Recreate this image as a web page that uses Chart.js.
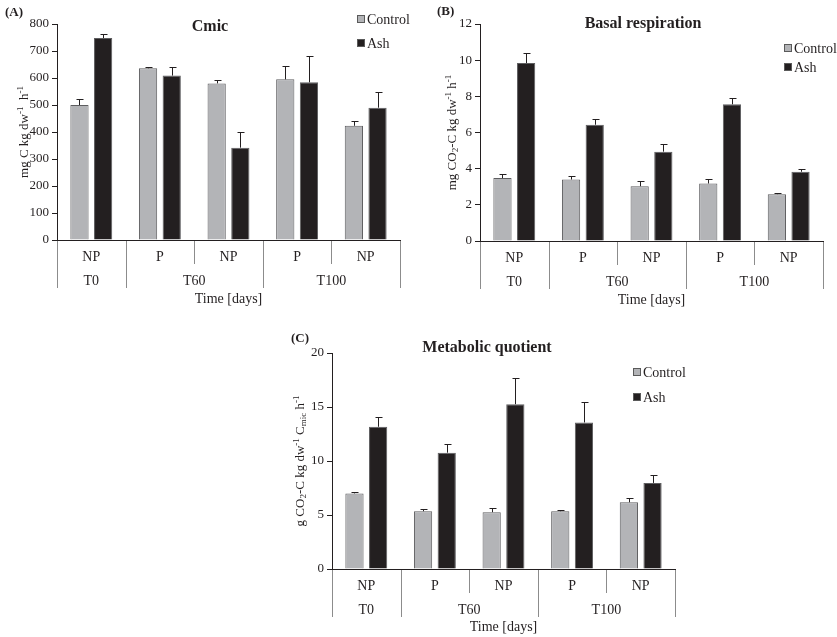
<!DOCTYPE html>
<html>
<head>
<meta charset="utf-8">
<script src="https://cdn.jsdelivr.net/npm/chart.js@4"></script>
<style>
  body { margin: 0; background: #fff; }
  #wrap { position: relative; width: 837px; height: 637px; }
  canvas { position: absolute; }
</style>
</head>
<body>
<div id="wrap">
  <canvas id="chartA" width="418" height="310" style="left:0;top:0"></canvas>
  <canvas id="chartB" width="417" height="310" style="left:420px;top:0"></canvas>
  <canvas id="chartC" width="430" height="327" style="left:270px;top:310px"></canvas>
</div>
<script>
// categories
const treatments = ['NP', 'P', 'NP', 'P', 'NP'];
const timeGroups = ['T0', 'T60', 'T100'];
const groupSpans = [1, 2, 2];
const seriesNames = ['Control', 'Ash'];

// (A) Cmic
const cmicControl = [500, 636, 580, 595, 423];
const cmicControlErr = [22, 6, 13, 51, 19];
const cmicAsh = [748, 609, 342, 584, 490];
const cmicAshErr = [16, 30, 59, 99, 57];
const cmicAxis = [0, 800, 100]; // min, max, step

// (B) Basal respiration
const respControl = [3.48, 3.40, 3.03, 3.18, 2.59];
const respControlErr = [0.22, 0.20, 0.28, 0.24, 0.07];
const respAsh = [9.84, 6.43, 4.94, 7.56, 3.83];
const respAshErr = [0.55, 0.30, 0.40, 0.37, 0.13];
const respAxis = [0, 12, 2];

// (C) Metabolic quotient
const qControl = [7.0, 5.35, 5.26, 5.35, 6.18];
const qControlErr = [0.1, 0.22, 0.43, 0.13, 0.42];
const qAsh = [13.17, 10.77, 15.26, 13.57, 7.97];
const qAshErr = [0.92, 0.8, 2.4, 1.93, 0.73];
const qAxis = [0, 20, 5];

const FONT = "'Liberation Serif', 'Times New Roman', serif";
const INK = '#231f20';
Chart.defaults.font.family = FONT;
Chart.defaults.color = INK;

// rotated axis title with super/subscripts: [text, 0 normal | 1 sup | -1 sub]
function drawRich(ctx, parts, cx, cy, size) {
  const small = Math.round(size * 0.7);
  const fonts = parts.map(p => (p[1] ? small : size) + 'px ' + FONT);
  let total = 0;
  const widths = parts.map((p, i) => {
    ctx.font = fonts[i];
    const w = ctx.measureText(p[0]).width;
    total += w;
    return w;
  });
  ctx.save();
  ctx.translate(cx, cy);
  ctx.rotate(-Math.PI / 2);
  ctx.textAlign = 'left';
  ctx.textBaseline = 'alphabetic';
  let x = -total / 2;
  parts.forEach((p, i) => {
    ctx.font = fonts[i];
    const dy = p[1] === 1 ? -size * 0.38 : p[1] === -1 ? size * 0.22 : 0;
    ctx.fillText(p[0], x, size * 0.35 + dy);
    x += widths[i];
  });
  ctx.restore();
}

const panelPlugin = {
  id: 'panel',
  afterDatasetsDraw(chart) {
    // error bars (upper only)
    const ctx = chart.ctx, ys = chart.scales.y;
    ctx.save();
    ctx.strokeStyle = INK;
    ctx.lineWidth = 1;
    chart.data.datasets.forEach((ds, i) => {
      chart.getDatasetMeta(i).data.forEach((bar, j) => {
        const yTop = Math.round(ys.getPixelForValue(ds.data[j] + ds.errors[j])) + 0.5;
        const x = Math.round(bar.x) + 0.5;
        ctx.beginPath();
        ctx.moveTo(x, bar.y);
        ctx.lineTo(x, yTop);
        ctx.moveTo(x - 3, yTop);
        ctx.lineTo(x + 4, yTop);
        ctx.stroke();
      });
    });
    ctx.restore();
  },
  afterDraw(chart, args, o) {
    const ctx = chart.ctx, xs = chart.scales.x, area = chart.chartArea;
    const n = chart.data.labels.length;
    const w = (xs.right - xs.left) / n;
    const base = area.bottom;
    ctx.save();

    // category dividers
    const bounds = [0];
    groupSpans.forEach(s => bounds.push(bounds[bounds.length - 1] + s));
    ctx.strokeStyle = '#8c8c8c';
    ctx.lineWidth = 1;
    for (let k = 0; k <= n; k++) {
      const x = Math.round(xs.left + k * w) + 0.5;
      const len = bounds.includes(k) ? 48 : 24;
      ctx.beginPath();
      ctx.moveTo(x, base + 1);
      ctx.lineTo(x, base + len);
      ctx.stroke();
    }

    // time group labels
    ctx.fillStyle = INK;
    ctx.font = '14px ' + FONT;
    ctx.textAlign = 'center';
    ctx.textBaseline = 'middle';
    timeGroups.forEach((g, i) => {
      const cx = xs.left + (bounds[i] + groupSpans[i] / 2) * w;
      ctx.fillText(g, cx, base + 41);
    });

    // panel tag and title
    ctx.font = 'bold 13px ' + FONT;
    ctx.textAlign = 'left';
    ctx.fillText(o.tag, o.tagX, o.tagY);
    ctx.font = 'bold 16px ' + FONT;
    ctx.textAlign = 'center';
    ctx.fillText(o.title, o.titleX, o.titleY);

    // legend
    ctx.font = '14px ' + FONT;
    ctx.textAlign = 'left';
    chart.data.datasets.forEach((ds, i) => {
      const y = o.legendY + i * o.legendGap;
      ctx.fillStyle = ds.backgroundColor;
      ctx.fillRect(o.legendX, y - 4, 8, 8);
      ctx.strokeStyle = '#5a5a5a';
      ctx.strokeRect(o.legendX + 0.5, y - 3.5, 7, 7);
      ctx.fillStyle = INK;
      ctx.fillText(ds.label, o.legendX + 10, y + 1);
    });

    // y axis title
    ctx.fillStyle = INK;
    drawRich(ctx, o.yTitle, area.left - o.yTitleOffset, (area.top + area.bottom) / 2, 13);
    ctx.restore();
  }
};

function makeChart(id, ctrl, ctrlErr, ash, ashErr, axis, lay, panel) {
  return new Chart(document.getElementById(id), {
    type: 'bar',
    data: {
      labels: treatments,
      datasets: [
        { label: seriesNames[0], data: ctrl, errors: ctrlErr, backgroundColor: '#b3b4b7', borderColor: '#5e5e60', borderWidth: 1 },
        { label: seriesNames[1], data: ash, errors: ashErr, backgroundColor: INK, borderColor: '#5e5e60', borderWidth: 1 }
      ]
    },
    options: {
      responsive: false,
      animation: false,
      devicePixelRatio: 1,
      datasets: { bar: { categoryPercentage: 0.69, barPercentage: 0.77 } },
      layout: { padding: { top: lay.top, right: lay.right, left: 0, bottom: 0 } },
      plugins: { legend: { display: false }, tooltip: { enabled: false }, panel: panel },
      scales: {
        x: {
          grid: { display: false },
          border: { color: INK },
          ticks: { font: { size: 14 }, padding: 1, color: INK },
          title: { display: true, text: 'Time [days]', font: { size: 14 }, color: INK, padding: { top: 0, bottom: lay.titlePad } },
          afterFit: s => { s.height = lay.xh; }
        },
        y: {
          min: axis[0], max: axis[1],
          ticks: { stepSize: axis[2], font: { size: 13 }, padding: 3, color: INK },
          grid: { drawOnChartArea: false, tickLength: 5, color: INK },
          border: { color: INK },
          afterFit: s => { s.width = lay.left; }
        }
      }
    },
    plugins: [panelPlugin]
  });
}

makeChart('chartA', cmicControl, cmicControlErr, cmicAsh, cmicAshErr, cmicAxis,
  { top: 24, right: 18, left: 57, xh: 70, titlePad: 2 },
  { tag: '(A)', tagX: 5, tagY: 13, title: 'Cmic', titleX: 210, titleY: 27,
    legendX: 357, legendY: 19, legendGap: 24, yTitleOffset: 34,
    yTitle: [['mg C kg dw', 0], ['-1', 1], ['  h', 0], ['-1', 1]] });

makeChart('chartB', respControl, respControlErr, respAsh, respAshErr, respAxis,
  { top: 24, right: 14, left: 60, xh: 69, titlePad: 1 },
  { tag: '(B)', tagX: 17, tagY: 12, title: 'Basal respiration', titleX: 223, titleY: 24,
    legendX: 364, legendY: 48, legendGap: 19, yTitleOffset: 29,
    yTitle: [['mg CO', 0], ['2', -1], ['-C kg dw', 0], ['-1', 1], [' h', 0], ['-1', 1]] });

makeChart('chartC', qControl, qControlErr, qAsh, qAshErr, qAxis,
  { top: 43, right: 25, left: 62, xh: 68, titlePad: 1 },
  { tag: '(C)', tagX: 21, tagY: 29, title: 'Metabolic quotient', titleX: 217, titleY: 38,
    legendX: 363, legendY: 62, legendGap: 25, yTitleOffset: 33,
    yTitle: [['g CO', 0], ['2', -1], ['-C kg dw', 0], ['-1', 1], [' C', 0], ['mic', -1], [' h', 0], ['-1', 1]] });
</script>
</body>
</html>
